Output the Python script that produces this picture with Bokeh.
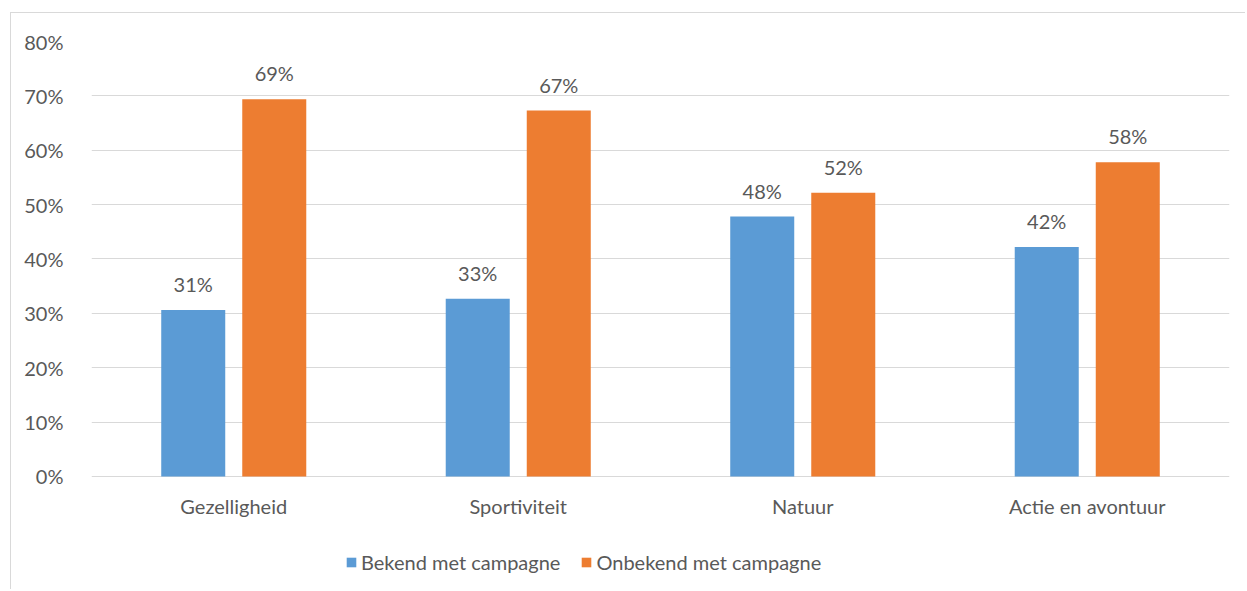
from bokeh.plotting import figure
from bokeh.models import ColumnDataSource, Range1d, NumeralTickFormatter, Legend, LegendItem, FixedTicker
from bokeh.transform import dodge
from bokeh.core.properties import value
from bokeh.embed import file_html
from bokeh.resources import INLINE

categories = ["Gezelligheid", "Sportiviteit", "Natuur", "Actie en avontuur"]
bekend = [0.306, 0.327, 0.478, 0.422]
onbekend = [0.694, 0.673, 0.522, 0.578]
series_names = ["Bekend met campagne", "Onbekend met campagne"]
y_ticks = [0, 0.1, 0.2, 0.3, 0.4, 0.5, 0.6, 0.7, 0.8]

BLUE = "#5B9BD5"
ORANGE = "#ED7D31"
TEXT = "#595959"
GRID = "#D9D9D9"
FONT = "Lato"
FS = "20px"

src = ColumnDataSource(dict(
    cat=categories,
    bekend=bekend,
    onbekend=onbekend,
    lb=[f"{round(v*100)}%" for v in bekend],
    lo=[f"{round(v*100)}%" for v in onbekend],
))

# frame extends below the zero line so the category labels and legend sit inside it
p = figure(x_range=categories, y_range=Range1d(-0.2097, 0.8),
           width=1235, height=577, output_backend="svg", toolbar_location=None,
           min_border_left=80, min_border_right=17, min_border_top=28, min_border_bottom=0)
p.margin = (12, 0, 0, 10)
p.styles = {"border-left": f"1px solid {GRID}", "border-top": f"1px solid {GRID}"}
p.outline_line_color = None
p.background_fill_color = "white"
p.border_fill_color = "white"

rb = p.vbar(x=dodge("cat", -0.1424, range=p.x_range), top="bekend", width=0.225, source=src,
            fill_color=BLUE, line_color=None)
ro = p.vbar(x=dodge("cat", 0.1424, range=p.x_range), top="onbekend", width=0.225, source=src,
            fill_color=ORANGE, line_color=None)

p.text(x=dodge("cat", -0.1424, range=p.x_range), y="bekend", text="lb", source=src,
       text_align="center", text_baseline="bottom", y_offset=-14,
       text_font=value(FONT), text_font_size=FS, text_color=TEXT)
p.text(x=dodge("cat", 0.1424, range=p.x_range), y="onbekend", text="lo", source=src,
       text_align="center", text_baseline="bottom", y_offset=-14,
       text_font=value(FONT), text_font_size=FS, text_color=TEXT)

p.yaxis.ticker = FixedTicker(ticks=y_ticks)
p.ygrid.ticker = FixedTicker(ticks=y_ticks)
p.yaxis.formatter = NumeralTickFormatter(format="0%")
p.xaxis.fixed_location = 0
for ax in (p.xaxis[0], p.yaxis[0]):
    ax.axis_line_color = None
    ax.major_tick_line_color = None
    ax.minor_tick_line_color = None
    ax.major_label_text_font = FONT
    ax.major_label_text_font_size = FS
    ax.major_label_text_color = TEXT
p.yaxis.major_label_standoff = 22
p.xaxis.major_label_standoff = 12

p.xgrid.grid_line_color = None
p.ygrid.grid_line_color = GRID
p.ygrid.grid_line_width = 1

legend = Legend(items=[LegendItem(label=series_names[0], renderers=[rb]),
                       LegendItem(label=series_names[1], renderers=[ro])],
                orientation="horizontal", location=(254, 16),
                glyph_width=12, glyph_height=12, label_standoff=4, spacing=20,
                padding=0, margin=0, border_line_color=None, background_fill_alpha=0,
                label_text_font=FONT, label_text_font_size=FS, label_text_color=TEXT)
p.add_layout(legend, "center")

open("out.html", "w").write(file_html(p, INLINE))
